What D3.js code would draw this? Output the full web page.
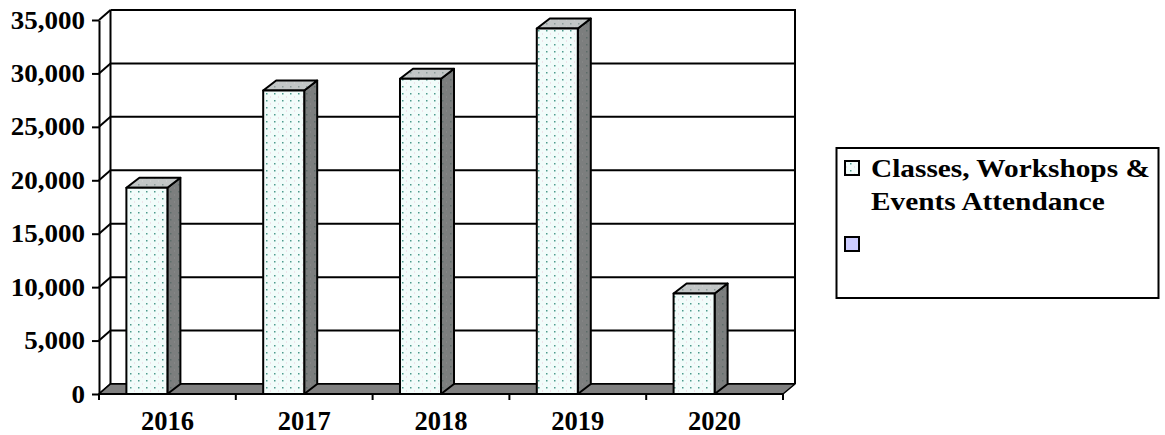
<!DOCTYPE html>
<html>
<head>
<meta charset="utf-8">
<script src="https://cdn.jsdelivr.net/npm/d3@7"></script>
<style>
  html, body { margin: 0; padding: 0; background: #ffffff; }
  svg { display: block; }
  text { font-family: "Liberation Serif", "Times New Roman", serif; font-weight: bold; fill: #000; }
</style>
</head>
<body>
<svg id="chart" width="1165" height="435"></svg>
<script>
// Attendance by year (series 2 has no values and only shows in the legend)
const years = ["2016", "2017", "2018", "2019", "2020"];
const seriesNames = ["Classes, Workshops & Events Attendance", ""];
const attendance = [19300, 28400, 29500, 34200, 9400];
const secondSeries = [null, null, null, null, null];
const yTickValues = [0, 5000, 10000, 15000, 20000, 25000, 30000, 35000];

const svg = d3.select("#chart");

// front plane of the 3D box and the depth offset to the back wall
const front = { left: 99, right: 783, top: 20, bottom: 394 };
const wallDx = 11.5, wallDy = -10;
const barDx = 13, barDy = -10;

const x0 = d3.scaleBand().domain(years).range([front.left, front.right]).paddingInner(0).paddingOuter(0);
const x1 = d3.scaleBand().domain(d3.range(seriesNames.length)).range([0, x0.bandwidth()]).paddingInner(0).paddingOuter(0.668);
const y = d3.scaleLinear().domain([0, 35000]).range([front.bottom, front.top]);

// fill patterns: dotted faces of the columns
const defs = svg.append("defs");
function dotPattern(id, bg, dot, dot2) {
  const p = defs.append("pattern").attr("id", id)
    .attr("patternUnits", "userSpaceOnUse").attr("width", 8).attr("height", 7);
  p.append("rect").attr("width", 8).attr("height", 7).attr("fill", bg);
  p.append("rect").attr("x", 2).attr("y", 2).attr("width", 1.5).attr("height", 1.5).attr("fill", dot);
  p.append("rect").attr("x", 6).attr("y", 5.5).attr("width", 1).attr("height", 1).attr("fill", dot2);
}
dotPattern("pFront", "#f2fcfa", "#4c9a8c", "#e8c8d8");
dotPattern("pSide", "#7c7e7e", "#5d6c69", "#8f8f8f");
dotPattern("pTop", "#c2c6c6", "#8c9c9a", "#d6d6d6");

const line = d3.line();

// back wall
const backL = front.left + wallDx, backR = front.right + wallDx + 0.5;
const backTop = front.top + wallDy, backBottom = front.bottom + wallDy;
svg.append("rect").attr("x", backL).attr("y", backTop)
  .attr("width", backR - backL).attr("height", backBottom - backTop).attr("fill", "#fff");

// gridlines on the back wall and their diagonals on the side wall
const grid = svg.append("g").attr("stroke", "#000").attr("stroke-width", 2).attr("fill", "none");
yTickValues.forEach(v => {
  const yy = y(v);
  grid.append("line").attr("x1", backL).attr("x2", backR).attr("y1", yy + wallDy).attr("y2", yy + wallDy);
  grid.append("path").attr("d", line([[front.left, yy], [backL, yy + wallDy]]));
});
grid.append("line").attr("x1", backL).attr("x2", backL).attr("y1", backTop).attr("y2", backBottom);
grid.append("line").attr("x1", backR).attr("x2", backR).attr("y1", backTop - 1).attr("y2", backBottom);

// floor
svg.append("path")
  .attr("d", line([[front.left, y(0)], [backL, y(0) + wallDy], [backR, y(0) + wallDy], [front.right, y(0)]]) + "Z")
  .attr("fill", "#808080").attr("stroke", "#000").attr("stroke-width", 1.5).attr("stroke-linejoin", "round");

// columns
const bars = svg.append("g");
const seriesData = [attendance, secondSeries];
seriesData.forEach((vals, si) => {
  years.forEach((yr, i) => {
    const v = vals[i];
    if (v == null) return;
    const xl = x0(yr) + x1(si), xr = xl + x1.bandwidth();
    const yt = y(v), yb = y(0);
    const g = bars.append("g").attr("stroke", "#000").attr("stroke-width", 2).attr("stroke-linejoin", "round");
    g.append("path").attr("fill", "url(#pSide)")
      .attr("d", line([[xr, yt], [xr + barDx, yt + barDy], [xr + barDx, yb + barDy], [xr, yb]]) + "Z");
    g.append("path").attr("fill", "url(#pTop)")
      .attr("d", line([[xl, yt], [xl + barDx, yt + barDy], [xr + barDx, yt + barDy], [xr, yt]]) + "Z");
    g.append("rect").attr("fill", "url(#pFront)")
      .attr("x", xl).attr("y", yt).attr("width", xr - xl).attr("height", yb - yt);
  });
});

// value axis
const yAxis = svg.append("g").attr("transform", `translate(${front.left},0)`)
  .call(d3.axisLeft(y).tickValues(yTickValues).tickFormat(d3.format(",")).tickSize(7).tickSizeOuter(0));
yAxis.select(".domain").attr("stroke", "#000").attr("stroke-width", 2);
yAxis.selectAll(".tick line").attr("stroke", "#000").attr("stroke-width", 2);
yAxis.selectAll(".tick text")
  .attr("x", null).attr("dy", null)
  .attr("font-size", 25)
  .attr("text-anchor", "end")
  .attr("transform", "translate(-14,8) scale(1.08,1)");

// category axis: labels at band centres, ticks at band edges
const xAxis = svg.append("g").attr("transform", `translate(0,${front.bottom})`)
  .call(d3.axisBottom(x0).tickSize(0).tickPadding(0));
xAxis.select(".domain").attr("stroke", "#000").attr("stroke-width", 2).attr("d", `M${front.left},0H${front.right}`);
xAxis.selectAll(".tick text").attr("dy", null).attr("y", 36).attr("font-size", 26.5);
const edges = years.map(d => x0(d)).concat([front.right]);
xAxis.selectAll(".edge").data(edges).join("line").attr("class", "edge")
  .attr("x1", d => d).attr("x2", d => d).attr("y1", 0).attr("y2", 6)
  .attr("stroke", "#000").attr("stroke-width", 2);

// legend
const legend = svg.append("g");
legend.append("rect").attr("x", 836.5).attr("y", 148).attr("width", 322).attr("height", 150)
  .attr("fill", "#fff").attr("stroke", "#000").attr("stroke-width", 2);
const swatchFills = ["url(#pFront)", "#ccccff"];
const swatchY = [161, 237];
seriesNames.forEach((name, i) => {
  legend.append("rect").attr("x", 845).attr("y", swatchY[i]).attr("width", 14).attr("height", 14)
    .attr("fill", swatchFills[i]).attr("stroke", "#000").attr("stroke-width", 2);
});
const legendLines = [["Classes, Workshops &", "Events Attendance"], []];
legendLines[0].forEach((t, k) => {
  legend.append("text").attr("font-size", 25.5)
    .attr("transform", `translate(871,${177 + k * 33}) scale(1.15,1)`)
    .text(t);
});
</script>
</body>
</html>
